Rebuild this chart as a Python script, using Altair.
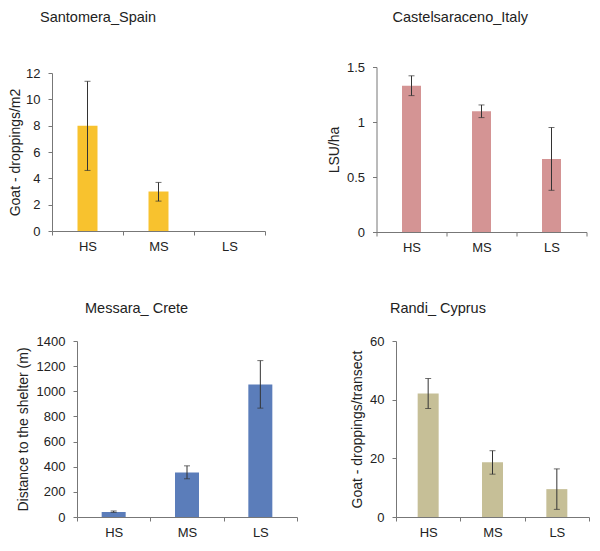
import altair as alt
import pandas as pd

categories = ["HS", "MS", "LS"]

spain_mean = [8.0, 3.0, 0.0]
spain_lo = [4.6, 2.27, None]
spain_hi = [11.37, 3.69, None]

italy_mean = [1.33, 1.097, 0.664]
italy_lo = [1.24, 1.04, 0.379]
italy_hi = [1.42, 1.155, 0.95]

crete_mean = [40, 354, 1054]
crete_lo = [37, 304, 866]
crete_hi = [48, 407, 1244]

cyprus_mean = [42.1, 18.7, 9.5]
cyprus_lo = [37.0, 14.6, 2.6]
cyprus_hi = [47.2, 22.6, 16.4]

FONT = "Liberation Sans"


def panel(title, ytitle, mean, lo, hi, color, domain, ticks, w, h, barsize,
          title_dx, title_offset, ytitle_pad, left_shift=0, top_shift=0):
    df = pd.DataFrame({"cat": categories, "mean": mean, "lo": lo, "hi": hi})
    base = alt.Chart(df)
    xenc = alt.X(
        "cat:N", sort=categories,
        scale=alt.Scale(paddingInner=0, paddingOuter=0,
                        range=[left_shift, left_shift + w]),
        axis=alt.Axis(title=None, labelAngle=0, tickBand="extent",
                      labelPadding=5),
    )

    def yenc(field):
        return alt.Y(
            field, type="quantitative",
            scale=alt.Scale(domain=domain, nice=False, zero=True,
                            range=[top_shift + h, top_shift]),
            axis=alt.Axis(values=ticks, title=ytitle, grid=False,
                          format="~r", labelPadding=8,
                          titlePadding=ytitle_pad, offset=-left_shift),
        )

    bars = base.mark_bar(size=barsize, color=color).encode(x=xenc, y=yenc("mean"))
    rule = base.mark_rule(color="#333333", strokeWidth=1).encode(
        x=xenc, y=yenc("lo"), y2="hi:Q")
    cap_lo = base.mark_tick(color="#333333", size=6, thickness=1).encode(
        x=xenc, y=yenc("lo"))
    cap_hi = base.mark_tick(color="#333333", size=6, thickness=1).encode(
        x=xenc, y=yenc("hi"))
    return alt.layer(bars, rule, cap_lo, cap_hi).properties(
        width=w + left_shift, height=h + top_shift,
        title=alt.TitleParams(title, anchor="start", frame="group",
                              dx=title_dx + left_shift, offset=title_offset,
                              fontSize=14.5, fontWeight="normal",
                              color="#222222", font=FONT),
    )


spain = panel("Santomera_Spain", "Goat - droppings/m2", spain_mean, spain_lo,
              spain_hi, "#F8C22E", [0, 12], [0, 2, 4, 6, 8, 10, 12],
              213, 158, 20, -12, 41.5, 3, left_shift=0, top_shift=6)
italy = panel("Castelsaraceno_Italy", "LSU/ha", italy_mean, italy_lo, italy_hi,
              "#D49494", [0, 1.5], [0, 0.5, 1, 1.5], 210, 165, 19, 16, 35.5, 5)
crete = panel("Messara_ Crete", "Distance to the shelter (m)", crete_mean,
              crete_lo, crete_hi, "#5B7DBA", [0, 1400],
              [0, 200, 400, 600, 800, 1000, 1200, 1400], 220, 176, 24, 8, 18.5, 6,
              left_shift=25)
cyprus = panel("Randi_ Cyprus", "Goat - droppings/transect", cyprus_mean,
               cyprus_lo, cyprus_hi, "#C6BF97", [0, 60], [0, 20, 40, 60],
               193, 176, 21, -6, 18.5, 5)

row1 = alt.hconcat(spain, italy, spacing=60.5)
row2 = alt.hconcat(crete, cyprus, spacing=52)

chart = alt.concat(row1, row2, columns=1, spacing=47).properties(
    align="none",
    padding={"left": 0, "top": 2, "right": 0, "bottom": 0},
).configure(font=FONT).configure_view(stroke=None).configure_axis(
    labelFont=FONT, titleFont=FONT, labelFontSize=13, titleFontSize=14,
    titleFontWeight="normal", labelColor="#222222", titleColor="#222222",
    domainColor="#777777", tickColor="#777777", tickSize=4,
)

chart.save("out.html", embed_options={"renderer": "svg", "actions": False})
